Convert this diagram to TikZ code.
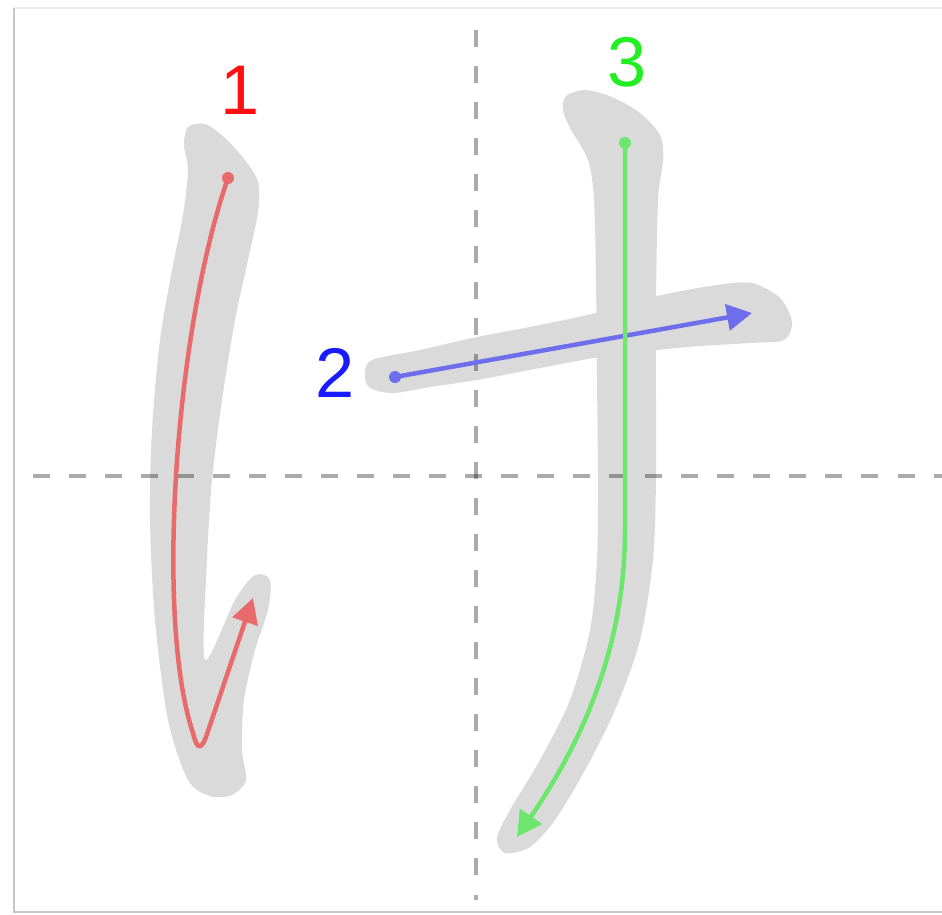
\documentclass[tikz,border=0pt]{standalone}
\usepackage{fontspec}
\setmainfont{Liberation Sans}
\usetikzlibrary{arrows.meta}
\definecolor{brushgray}{HTML}{DADADA}
\definecolor{lineone}{HTML}{E96A6A}
\definecolor{linetwo}{HTML}{6E6EEC}
\definecolor{linethree}{HTML}{6CE66C}
\definecolor{numone}{HTML}{FF1010}
\definecolor{numtwo}{HTML}{1A1AFF}
\definecolor{numthree}{HTML}{22EE22}

\begin{document}
\begin{tikzpicture}[x=0.01cm, y=-0.01cm,
    brush/.style={fill=brushgray, draw=none},
    guide/.style={draw=black, opacity=0.33, line width=0.04cm, dash pattern=on 0.17cm off 0.19cm},
    order/.style={line width=0.045cm, line cap=round, line join=round, -{Triangle[length=0.25cm, width=0.26cm]}},
    num/.style={font=\fontsize{20}{24}\selectfont, inner sep=0pt}]
    \useasboundingbox (0,0) rectangle (942,915);
    % frame
    \draw[gray!15, line width=0.02cm] (942,8) -- (14,8);
    \draw[gray!45, line width=0.02cm] (14,8) -- (14,912) -- (942,912);
    % brush shapes
    \fill[brush] plot[smooth cycle] coordinates {(188,127) (205,124) (225,138) (245,160) (258,182) (258,212) (248,260) (235,320) (222,400) (212,480) (207,560) (205,660) (235,600) (255,575) (270,580) (268,610) (255,650) (244,700) (242,750) (246,780) (232,795) (210,796) (188,780) (168,720) (155,620) (150,520) (152,430) (160,340) (172,270) (183,215) (188,170) (184,145)};
    \fill[brush] plot[smooth cycle] coordinates {(365,375) (372,360) (420,350) (477,337) (540,325) (600,312) (657,296) (717,285) (752,283) (780,298) (792,322) (784,340) (750,343) (700,346) (657,350) (600,357) (540,368) (477,380) (430,387) (393,393) (370,388)};
    \fill[brush] plot[smooth cycle] coordinates {(566,96) (585,90) (612,97) (640,113) (660,135) (663,160) (658,200) (656,300) (656,400) (656,480) (653,560) (640,640) (615,710) (585,770) (555,820) (530,847) (505,853) (497,838) (510,810) (540,760) (570,700) (590,630) (597,560) (598,480) (597,380) (596,280) (594,200) (588,160) (570,128) (563,110)};
    % guides
    \draw[guide] (476,30) -- (476,900);
    \draw[guide] (33,476) -- (942,476);
    % stroke order
    \coordinate (s1) at (228,178);
    \coordinate (b1) at (193,733);
    \coordinate (e1) at (253,598);
    \coordinate (s2) at (395,377);
    \coordinate (e2) at (752,313);
    \coordinate (s3) at (625,143);
    \coordinate (k3) at (625,530);
    \coordinate (e3) at (517,837);
    \draw[order, lineone] (s1) .. controls (175,330) and (155,620) .. (b1) .. controls (197,750) and (201,750) .. (206,737) -- (e1);
    \fill[lineone] (s1) circle (0.06cm);
    \draw[order, linetwo] (s2) -- (e2);
    \fill[linetwo] (s2) circle (0.06cm);
    \draw[order, linethree] (s3) -- (k3) .. controls (625,650) and (580,745) .. (e3);
    \fill[linethree] (s3) circle (0.06cm);
    % numbers
    \node[num, text=numone] (n1) at (240,90) {1};
    \node[num, text=numtwo] (n2) at (335,373) {2};
    \node[num, text=numthree] (n3) at (627,62) {3};
\end{tikzpicture}
\end{document}
